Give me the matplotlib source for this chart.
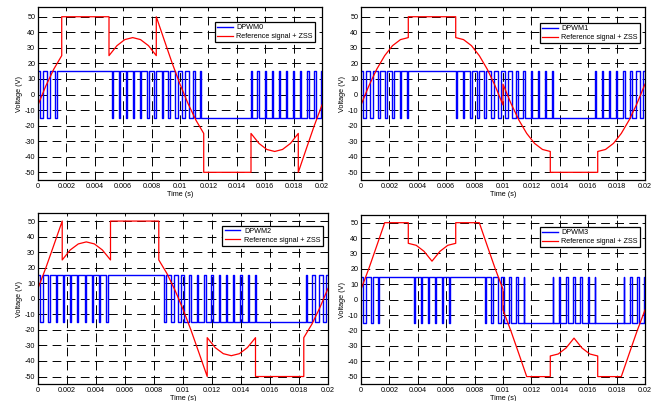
import matplotlib
matplotlib.use("Agg")
import matplotlib.pyplot as plt

plt.rcParams['font.family'] = ['Liberation Sans', 'DejaVu Sans']
plt.rcParams['axes.unicode_minus'] = False

# reference signal + ZSS, one list of (time, value) per modulation scheme
t_dpwm0 = [0, 0.00056, 0.00111, 0.00167, 0.00167, 0.005, 0.005, 0.00556, 0.00611, 0.00667, 0.00722,
           0.00778, 0.00833, 0.00833, 0.00889, 0.00944, 0.01, 0.01056, 0.01111, 0.01167, 0.01167,
           0.015, 0.015, 0.01556, 0.01611, 0.01667, 0.01722, 0.01778, 0.01833, 0.01833, 0.01889,
           0.01944, 0.02]
v_dpwm0 = [-6.7, 5.7, 16.3, 25, 50, 50, 25, 31.4, 35.3, 36.6, 35.3, 31.4, 25, 50, 35, 20.4, 6.7,
           -5.7, -16.3, -25, -50, -50, -25, -31.4, -35.3, -36.6, -35.3, -31.4, -25, -50, -35, -20.4, -6.7]

t_dpwm1 = [0, 0.00056, 0.00111, 0.00167, 0.00222, 0.00278, 0.00333, 0.00333, 0.00667, 0.00667,
           0.00722, 0.00778, 0.00833, 0.00889, 0.00944, 0.01, 0.01, 0.01056, 0.01111, 0.01167,
           0.01222, 0.01278, 0.01333, 0.01333, 0.01667, 0.01667, 0.01722, 0.01778, 0.01833,
           0.01889, 0.01944, 0.02]
v_dpwm1 = [-6.7, 5.7, 16.3, 25, 31.4, 35.3, 36.6, 50, 50, 36.6, 35.3, 31.4, 25, 16.3, 5.7, -6.7,
           6.7, -5.7, -16.3, -25, -31.4, -35.3, -36.6, -50, -50, -36.6, -35.3, -31.4, -25, -16.3, -5.7, 6.7]

t_dpwm2 = [0, 0.00056, 0.00111, 0.00167, 0.00167, 0.00222, 0.00278, 0.00333, 0.00389, 0.00444,
           0.005, 0.005, 0.00833, 0.00833, 0.00889, 0.00944, 0.01, 0.01056, 0.01111, 0.01167,
           0.01167, 0.01222, 0.01278, 0.01333, 0.01389, 0.01444, 0.015, 0.015, 0.01833, 0.01833,
           0.01889, 0.01944, 0.02]
v_dpwm2 = [6.7, 20.4, 35, 50, 25, 31.4, 35.3, 36.6, 35.3, 31.4, 25, 50, 50, 25, 16.3, 5.7, -6.7,
           -20.4, -35, -50, -25, -31.4, -35.3, -36.6, -35.3, -31.4, -25, -50, -50, -25, -16.3, -5.7, 6.7]

t_dpwm3 = [0, 0.00056, 0.00111, 0.00167, 0.00333, 0.00333, 0.00389, 0.00444, 0.005, 0.00556,
           0.00611, 0.00667, 0.00667, 0.00833, 0.00889, 0.00944, 0.01, 0.01, 0.01056, 0.01111,
           0.01167, 0.01333, 0.01333, 0.01389, 0.01444, 0.015, 0.01556, 0.01611, 0.01667, 0.01667,
           0.01833, 0.01889, 0.01944, 0.02]
v_dpwm3 = [6.7, 20.4, 35, 50, 50, 36.6, 35.3, 31.4, 25, 31.4, 35.3, 36.6, 50, 50, 35, 20.4, 6.7,
           -6.7, -20.4, -35, -50, -50, -36.6, -35.3, -31.4, -25, -31.4, -35.3, -36.6, -50, -50,
           -35, -20.4, -6.7]

# PWM output: fraction of each carrier period spent at the low level (0 = always high, 1 = always low)
carrier_period = 0.0005
pwm_level = 15
low_dpwm0 = [0.51, 0.40, 0.31, 0, 0, 0, 0, 0, 0, 0, 0.22, 0.17, 0.14, 0.13, 0.15, 0.18, 0.24, 0.11,
             0.25, 0.37, 0.49, 0.60, 0.69, 1, 1, 1, 1, 1, 1, 1, 0.78, 0.83, 0.86, 0.87, 0.85, 0.82,
             0.76, 0.89, 0.75, 0.63]
low_dpwm1 = [0.51, 0.40, 0.31, 0.24, 0.18, 0.15, 0.13, 0, 0, 0, 0, 0, 0, 0.13, 0.15, 0.18, 0.24,
             0.31, 0.40, 0.51, 0.49, 0.60, 0.69, 0.76, 0.82, 0.85, 0.87, 1, 1, 1, 1, 1, 1, 0.87,
             0.85, 0.82, 0.76, 0.69, 0.60, 0.49]
low_dpwm2 = [0.37, 0.25, 0.11, 0.24, 0.18, 0.15, 0.13, 0.14, 0.17, 0.22, 0, 0, 0, 0, 0, 0, 0, 0.31,
             0.40, 0.51, 0.63, 0.75, 0.89, 0.76, 0.82, 0.85, 0.87, 0.86, 0.83, 0.78, 1, 1, 1, 1, 1,
             1, 1, 0.69, 0.60, 0.49]
low_dpwm3 = [0.37, 0.25, 0.11, 0, 0, 0, 0, 0.14, 0.17, 0.22, 0.22, 0.17, 0.14, 0, 0, 0, 0, 0.11,
             0.25, 0.37, 0.63, 0.75, 0.89, 1, 1, 1, 1, 0.86, 0.83, 0.78, 0.78, 0.83, 0.86, 1, 1, 1,
             1, 0.89, 0.75, 0.63]

names = ['DPWM0', 'DPWM1', 'DPWM2', 'DPWM3']
ref_label = 'Reference signal + ZSS'
xticks = [0, 0.002, 0.004, 0.006, 0.008, 0.01, 0.012, 0.014, 0.016, 0.018, 0.02]
xtick_labels = ['0', '0.002', '0.004', '0.006', '0.008', '0.01', '0.012', '0.014', '0.016', '0.018', '0.02']
yticks = [-50, -40, -30, -20, -10, 0, 10, 20, 30, 40, 50]


def pwm_trace(lows, period, level, t_end):
    # turn per-period low fractions into a step trace (low pulse centred in each period)
    spans = []
    for k, frac in enumerate(lows):
        if frac <= 0:
            continue
        mid = (k + 0.5) * period
        a, b = mid - frac * period / 2, mid + frac * period / 2
        if spans and a <= spans[-1][1] + 1e-9:
            spans[-1][1] = b
        else:
            spans.append([a, b])
    xs, ys = [0], [level]
    for a, b in spans:
        xs += [a, a, b, b]
        ys += [level, -level, -level, level]
    xs.append(t_end)
    ys.append(level)
    return xs, ys


W, H = 662, 401
fig = plt.figure(figsize=(W / 100, H / 100), dpi=100)

# axes boxes in pixels: left, top, right, bottom
boxes = [(38, 7.4, 322, 180.1), (361, 7.4, 645, 180.1),
         (38, 213.3, 328, 384.3), (361, 215, 645, 384.3)]
ylims = [(-55, 56), (-55, 56), (-55, 55), (-55, 55)]
legend_anchor = [(315, 22), (640, 23), (322.7, 225.7), (640, 227)]

refs = [(t_dpwm0, v_dpwm0), (t_dpwm1, v_dpwm1), (t_dpwm2, v_dpwm2), (t_dpwm3, v_dpwm3)]
lows = [low_dpwm0, low_dpwm1, low_dpwm2, low_dpwm3]

fs = 5.2
for i in range(4):
    l, t, r, b = boxes[i]
    ax = fig.add_axes([l / W, 1 - b / H, (r - l) / W, (b - t) / H])
    px, py = pwm_trace(lows[i], carrier_period, pwm_level, 0.02)
    ax.plot(px, py, color='#0000ff', lw=1.0, label=names[i])
    ax.plot(refs[i][0], refs[i][1], color='#ff0000', lw=0.9, label=ref_label)

    ax.set_xlim(0, 0.02)
    ax.set_ylim(*ylims[i])
    ax.set_xticks(xticks)
    ax.set_xticklabels(xtick_labels)
    ax.set_yticks(yticks)
    ax.tick_params(direction='in', length=2.5, width=0.6, labelsize=fs, pad=2,
                   top=True, right=True)
    ax.grid(True, color='black', linestyle=(0, (9, 5.5)), linewidth=0.7)
    for sp in ax.spines.values():
        sp.set_linewidth(0.9)
        sp.set_color('black')
    ax.set_xlabel('Time (s)', fontsize=fs, labelpad=0.5)
    ax.set_ylabel('Voltage (V)', fontsize=fs, labelpad=1)

    ax_x, ax_y = legend_anchor[i]
    leg = ax.legend(loc='upper right',
                    bbox_to_anchor=((ax_x - l) / (r - l), 1 - (ax_y - t) / (b - t)),
                    borderaxespad=0, fontsize=fs, fancybox=False, framealpha=1,
                    edgecolor='black', borderpad=0.3, labelspacing=0.25,
                    handlelength=2.2, handletextpad=0.5)
    leg.get_frame().set_linewidth(0.9)

fig.savefig('out.png', dpi=100)
